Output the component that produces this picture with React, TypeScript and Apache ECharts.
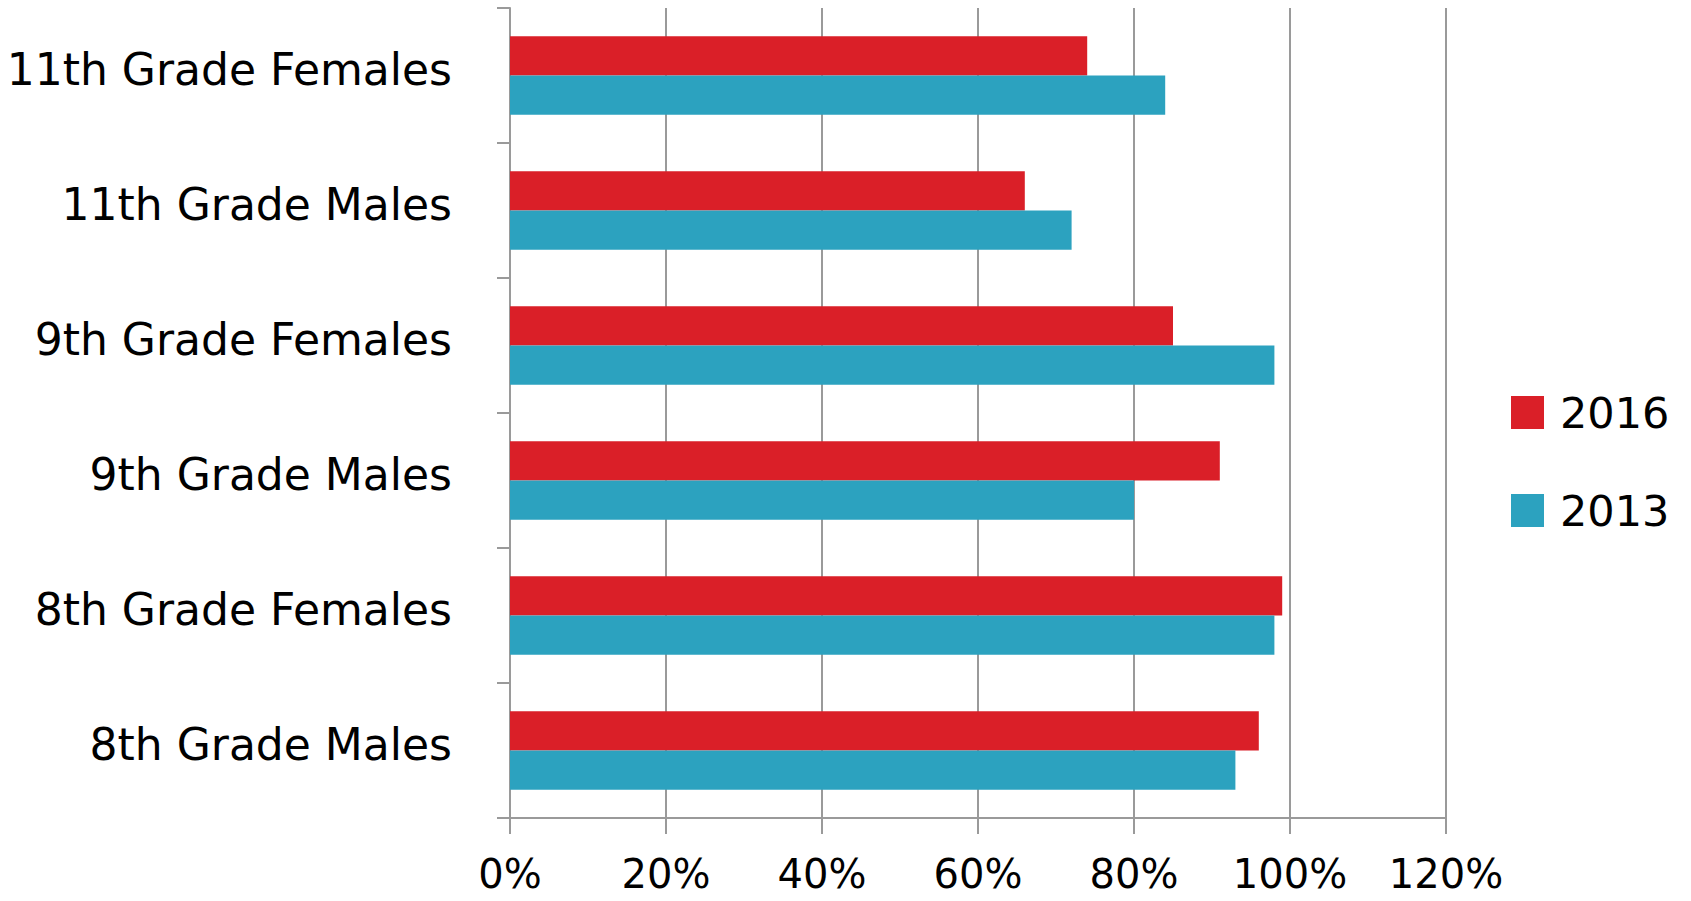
import React, { useEffect, useRef } from "react";
import * as echarts from "echarts";

const categories = [
  "11th Grade Females",
  "11th Grade Males",
  "9th Grade Females",
  "9th Grade Males",
  "8th Grade Females",
  "8th Grade Males",
];
const values2016 = [74, 66, 85, 91, 99, 96];
const values2013 = [84, 72, 98, 80, 98, 93];
const seriesNames = ["2016", "2013"];
const colors = ["#DA1F28", "#2CA2BF"];

const FONT = "'DejaVu Sans', 'Open Sans', sans-serif";
const GRAY = "#9a9a9a";

export default function App() {
  const ref = useRef<HTMLDivElement>(null);
  useEffect(() => {
    document.body.style.margin = "0";
    const chart = echarts.init(ref.current!, null, { renderer: "svg" });
    chart.setOption({
      animation: false,
      backgroundColor: "#ffffff",
      textStyle: { fontFamily: FONT },
      grid: { left: 510, right: 245, top: 8, bottom: 83, containLabel: false },
      legend: {
        orient: "vertical",
        left: 1511,
        top: 391,
        padding: 0,
        itemWidth: 33,
        itemHeight: 33,
        itemGap: 55,
        icon: "rect",
        data: seriesNames,
        textStyle: { fontSize: 43, color: "#000", fontFamily: FONT, padding: [0, 0, 0, 11] },
      },
      xAxis: {
        type: "value",
        min: 0,
        max: 120,
        interval: 20,
        axisLine: { show: true, lineStyle: { color: GRAY, width: 2 } },
        axisTick: { show: true, length: 16, lineStyle: { color: GRAY, width: 2 } },
        splitLine: { show: true, lineStyle: { color: GRAY, width: 2 } },
        axisLabel: {
          formatter: "{value}%",
          fontSize: 40,
          color: "#000",
          margin: 36,
          fontFamily: FONT,
        },
      },
      yAxis: {
        type: "category",
        inverse: true,
        data: categories,
        axisLine: { show: true, lineStyle: { color: GRAY, width: 2 } },
        axisTick: { show: true, length: 13, alignWithLabel: false, lineStyle: { color: GRAY, width: 2 } },
        axisLabel: {
          fontSize: 44,
          color: "#000",
          margin: 58,
          fontFamily: FONT,
          formatter: (v: string) => "{a|" + v + "}",
          rich: {
            a: { fontSize: 44, color: "#000", fontFamily: FONT, padding: [0, 0, 12, 0] },
          },
        },
      },
      series: [
        {
          name: seriesNames[0],
          type: "bar",
          data: values2016,
          itemStyle: { color: colors[0] },
          barGap: "0%",
          barCategoryGap: "42%",
        },
        {
          name: seriesNames[1],
          type: "bar",
          data: values2013,
          itemStyle: { color: colors[1] },
          barGap: "0%",
          barCategoryGap: "42%",
        },
      ],
    });
    return () => chart.dispose();
  }, []);
  return <div ref={ref} style={{ width: 1691, height: 901 }} />;
}
